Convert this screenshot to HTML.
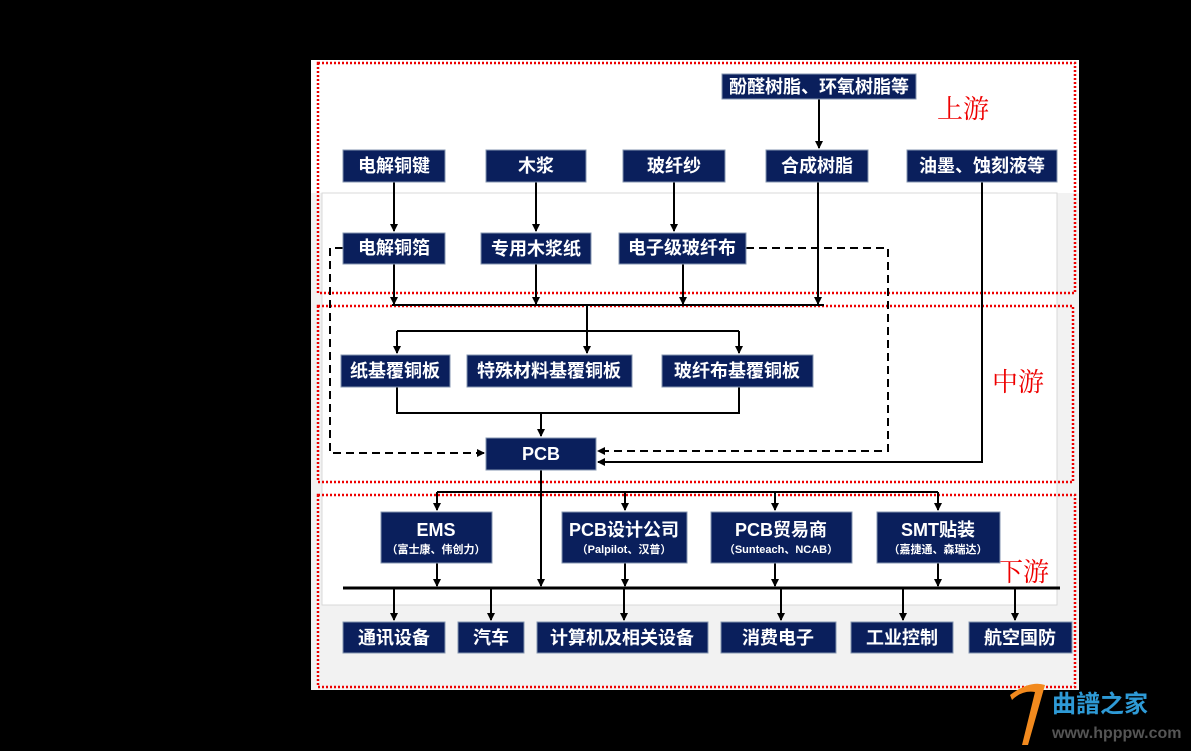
<!DOCTYPE html>
<html><head><meta charset="utf-8"><style>
html,body{margin:0;padding:0;background:#000;}
svg{display:block}
.b{fill:#0a1f5c;stroke:#8496b0;stroke-width:1}
.t{fill:#fff;font-family:"Liberation Sans","Noto Sans CJK SC",sans-serif;font-weight:bold;font-size:18px;text-anchor:middle;dominant-baseline:central}
.s{font-size:11px}
.l{stroke:#000;stroke-width:2;fill:none}
.d{stroke:#000;stroke-width:2;fill:none;stroke-dasharray:8,5}
.r{fill:none;stroke:#e00;stroke-width:2.5;stroke-dasharray:2,2}
.y{fill:#e00;font-family:"Noto Serif CJK SC","Liberation Serif",serif;font-size:26px}
</style></head><body>
<svg width="1191" height="751" viewBox="0 0 1191 751" xmlns="http://www.w3.org/2000/svg">
<defs><marker id="a" markerWidth="8" markerHeight="8" refX="7" refY="4" orient="auto" markerUnits="userSpaceOnUse"><path d="M0,0 L8,4 L0,8 z" fill="#000"/></marker></defs>
<rect x="311" y="60" width="768" height="630" fill="#f2f2f2"/>
<rect x="311" y="60" width="768" height="133" fill="#fff"/>
<rect x="322" y="193" width="735" height="412" fill="#fff" stroke="#d8d8d8"/>
<rect class="r" x="318" y="63" width="757" height="230"/>
<rect class="r" x="318" y="306" width="755" height="176"/>
<rect class="r" x="318" y="495" width="757" height="192"/>
<text class="y" x="937" y="118">上游</text>
<text class="y" x="992" y="391">中游</text>
<text class="y" x="997" y="581">下游</text>
<!-- lines -->
<path class="l" d="M819,99 V148" marker-end="url(#a)"/>
<path class="l" d="M394,182 V231" marker-end="url(#a)"/>
<path class="l" d="M536,182 V231" marker-end="url(#a)"/>
<path class="l" d="M674,182 V231" marker-end="url(#a)"/>
<path class="l" d="M394,264 V304" marker-end="url(#a)"/>
<path class="l" d="M536,264 V304" marker-end="url(#a)"/>
<path class="l" d="M683,264 V304" marker-end="url(#a)"/>
<path class="l" d="M818,182 V304" marker-end="url(#a)"/>
<path class="l" d="M392,305 H824"/>
<path class="l" d="M587,305 V331"/>
<path class="l" d="M397,331 H739"/>
<path class="l" d="M397,331 V353" marker-end="url(#a)"/>
<path class="l" d="M587,331 V353" marker-end="url(#a)"/>
<path class="l" d="M739,331 V353" marker-end="url(#a)"/>
<path class="l" d="M397,387 V413 H739 V387"/>
<path class="l" d="M541,413 V436" marker-end="url(#a)"/>
<path class="d" d="M343,248 H330 V453 H484" marker-end="url(#a)"/>
<path class="d" d="M746,248 H888 V451 H598" marker-end="url(#a)"/>
<path class="l" d="M982,182 V462 H598" marker-end="url(#a)"/>
<path class="l" d="M541,470 V586" marker-end="url(#a)"/>
<path class="l" d="M437,492 H938"/>
<path class="l" d="M437,492 V510" marker-end="url(#a)"/>
<path class="l" d="M625,492 V510" marker-end="url(#a)"/>
<path class="l" d="M775,492 V510" marker-end="url(#a)"/>
<path class="l" d="M938,492 V510" marker-end="url(#a)"/>
<path class="l" d="M437,563 V586" marker-end="url(#a)"/>
<path class="l" d="M625,563 V586" marker-end="url(#a)"/>
<path class="l" d="M775,563 V586" marker-end="url(#a)"/>
<path class="l" d="M938,563 V586" marker-end="url(#a)"/>
<path d="M343,588 H1060" stroke="#000" stroke-width="3"/>
<path class="l" d="M394,589 V620" marker-end="url(#a)"/>
<path class="l" d="M491,589 V620" marker-end="url(#a)"/>
<path class="l" d="M624,589 V620" marker-end="url(#a)"/>
<path class="l" d="M781,589 V620" marker-end="url(#a)"/>
<path class="l" d="M903,589 V620" marker-end="url(#a)"/>
<path class="l" d="M1015,589 V620" marker-end="url(#a)"/>
<!-- boxes -->
<rect class="b" x="722" y="74" width="194" height="25"/><text class="t" x="819" y="87">酚醛树脂、环氧树脂等</text>
<rect class="b" x="343" y="150" width="102" height="32"/><text class="t" x="394" y="166">电解铜键</text>
<rect class="b" x="486" y="150" width="100" height="32"/><text class="t" x="536" y="166">木浆</text>
<rect class="b" x="623" y="150" width="102" height="32"/><text class="t" x="674" y="166">玻纤纱</text>
<rect class="b" x="766" y="150" width="102" height="32"/><text class="t" x="817" y="166">合成树脂</text>
<rect class="b" x="907" y="150" width="150" height="32"/><text class="t" x="982" y="166">油墨、蚀刻液等</text>
<rect class="b" x="343" y="233" width="102" height="31"/><text class="t" x="394" y="248">电解铜箔</text>
<rect class="b" x="481" y="233" width="110" height="31"/><text class="t" x="536" y="249">专用木浆纸</text>
<rect class="b" x="619" y="233" width="127" height="31"/><text class="t" x="682" y="248">电子级玻纤布</text>
<rect class="b" x="341" y="355" width="109" height="32"/><text class="t" x="395" y="371">纸基覆铜板</text>
<rect class="b" x="467" y="355" width="165" height="32"/><text class="t" x="549" y="371">特殊材料基覆铜板</text>
<rect class="b" x="662" y="355" width="151" height="32"/><text class="t" x="737" y="371">玻纤布基覆铜板</text>
<rect class="b" x="486" y="438" width="110" height="32"/><text class="t" x="541" y="454">PCB</text>
<rect class="b" x="381" y="512" width="111" height="51"/><text class="t" x="436" y="530">EMS</text><text class="t s" x="436" y="550">（富士康、伟创力）</text>
<rect class="b" x="562" y="512" width="125" height="51"/><text class="t" x="624" y="530">PCB设计公司</text><text class="t s" x="624" y="550">（Palpilot、汉普）</text>
<rect class="b" x="711" y="512" width="141" height="51"/><text class="t" x="781" y="530">PCB贸易商</text><text class="t s" x="781" y="550">（Sunteach、NCAB）</text>
<rect class="b" x="877" y="512" width="123" height="51"/><text class="t" x="938" y="530">SMT贴装</text><text class="t s" x="938" y="550">（嘉捷通、森瑞达）</text>
<rect class="b" x="343" y="622" width="102" height="31"/><text class="t" x="394" y="638">通讯设备</text>
<rect class="b" x="458" y="622" width="66" height="31"/><text class="t" x="491" y="638">汽车</text>
<rect class="b" x="537" y="622" width="171" height="31"/><text class="t" x="622" y="638">计算机及相关设备</text>
<rect class="b" x="721" y="622" width="115" height="31"/><text class="t" x="778" y="638">消费电子</text>
<rect class="b" x="851" y="622" width="102" height="31"/><text class="t" x="902" y="638">工业控制</text>
<rect class="b" x="969" y="622" width="103" height="31"/><text class="t" x="1020" y="638">航空国防</text>
<!-- watermark -->
<path d="M1010,695 Q1030,680 1045,685 L1028,745 L1022,745 L1035,692 Q1022,690 1012,700 z" fill="#f28a1e"/>
<text x="1052" y="712" fill="#2e9ad6" font-family="Noto Sans CJK SC,sans-serif" font-size="24" font-weight="bold">曲譜之家</text>
<text x="1052" y="738" fill="#555" font-family="Liberation Sans,sans-serif" font-size="16" font-weight="bold">www.hpppw.com</text>
</svg>
</body></html>
